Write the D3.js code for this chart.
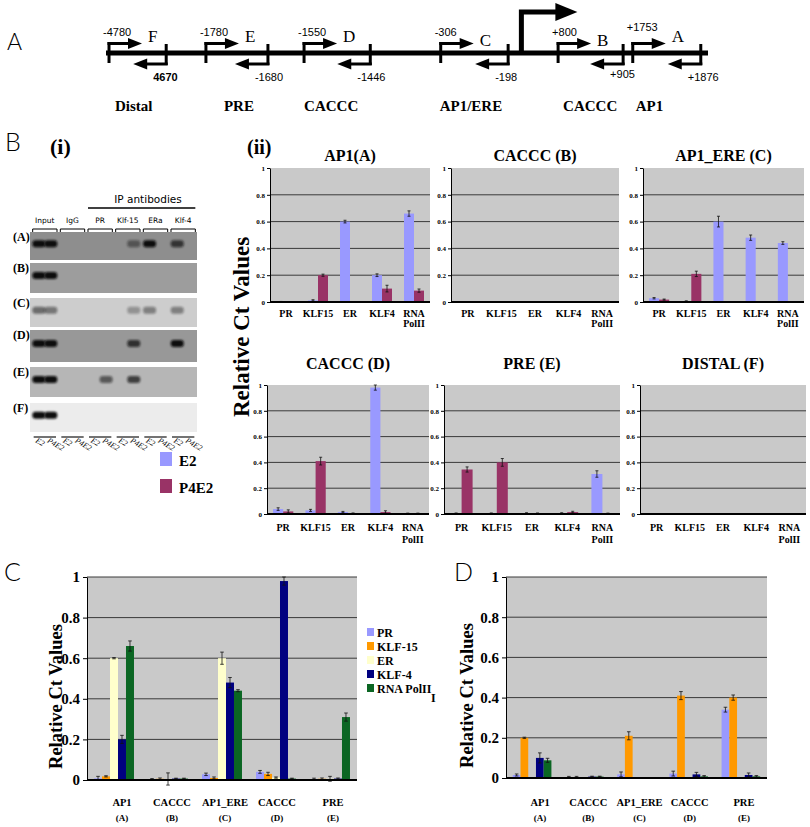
<!DOCTYPE html>
<html><head><meta charset="utf-8">
<script src="https://cdn.jsdelivr.net/npm/d3@7"></script>
<style>body{margin:0;background:#fff}</style>
</head><body>
<script>
// ---------------- DATA ----------------
// Panel A: promoter schematic
const siteLetters = ["F","E","D","C","B","A"];
const fwdLabels = ["-4780","-1780","-1550","-306","+800","+1753"];
const revLabels = ["4670","-1680","-1446","-198","+905","+1876"];
const regionNames = ["Distal","PRE","CACCC","AP1/ERE","CACCC","AP1"];

// Panel B(i): gel
const gelRows = ["(A)","(B)","(C)","(D)","(E)","(F)"];
const antibodies = ["Input","IgG","PR","Klf-15","ERa","Klf-4"];
const treatments = ["E2","P4E2"];
const gelA = [1,1, 0,0, 0,0, 0,0.45, 1,0, 0.7,0];
const gelB = [1,1, 0,0, 0,0, 0,0, 0,0, 0,0];
const gelC = [0.5,0.45, 0,0, 0,0, 0,0.3, 0.4,0, 0.4,0];
const gelD = [1,1, 0,0, 0,0, 0,0.75, 0,0, 1,0];
const gelE = [1,1, 0,0, 0,0.55, 0,0.7, 0,0, 0,0];
const gelF = [1,1, 0,0, 0,0, 0,0, 0,0, 0,0];

// Panel B(ii): six small charts, E2 vs P4E2
const factors = ["PR","KLF15","ER","KLF4","RNA PolII"];
const chartTitles = ["AP1(A)","CACCC (B)","AP1_ERE (C)","CACCC (D)","PRE (E)","DISTAL (F)"];
const e2_A = [0.002,0.012,0.60,0.20,0.66],  e2err_A = [0.002,0.005,0.01,0.01,0.02];
const p4_A = [0.002,0.20,0.004,0.10,0.085], p4err_A = [0,0.008,0,0.025,0.012];
const e2_B = [0.003,0.003,0.003,0.003,0.003], e2err_B = [0,0,0,0,0];
const p4_B = [0.003,0.003,0.003,0.003,0.003], p4err_B = [0,0,0,0,0];
const e2_C = [0.028,0.004,0.60,0.48,0.44],  e2err_C = [0.005,0.005,0.04,0.02,0.01];
const p4_C = [0.018,0.21,0.003,0.003,0.003], p4err_C = [0.004,0.02,0,0,0];
const e2_D = [0.038,0.028,0.015,0.98,0.005], e2err_D = [0.01,0.008,0.005,0.02,0.002];
const p4_D = [0.02,0.41,0.006,0.015,0.005], p4err_D = [0.012,0.03,0.002,0.01,0.002];
const e2_E = [0.004,0.004,0.006,0.006,0.31], e2err_E = [0.004,0.004,0.004,0.004,0.025];
const p4_E = [0.345,0.40,0.005,0.015,0.005], p4err_E = [0.02,0.03,0.003,0.006,0.002];
const e2_F = [0,0,0,0,0], e2err_F = [0,0,0,0,0];
const p4_F = [0,0,0,0,0], p4err_F = [0,0,0,0,0];

// Panels C (E2) and D (P4E2)
const siteNames = ["AP1","CACCC","AP1_ERE","CACCC","PRE"];
const siteCodes = ["(A)","(B)","(C)","(D)","(E)"];
const seriesNames = ["PR","KLF-15","ER","KLF-4","RNA PolII"];
const cPR    = [0.008,0.004,0.028,0.04,0.005],  cPRerr    = [0.01,0.003,0.006,0.007,0.004];
const cKLF15 = [0.018,0.006,0.01,0.03,0.006],   cKLF15err = [0.003,0.004,0.005,0.008,0.004];
const cER    = [0.60,0.005,0.60,0.012,0.006],   cERerr    = [0.003,0.03,0.03,0.003,0.012];
const cKLF4  = [0.20,0.007,0.48,0.98,0.007],    cKLF4err  = [0.02,0.002,0.025,0.02,0.003];
const cRNA   = [0.66,0.007,0.44,0.007,0.31],    cRNAerr   = [0.025,0.002,0.005,0.002,0.02];
const dPR    = [0.015,0.005,0.018,0.022,0.34],  dPRerr    = [0.005,0.003,0.012,0.012,0.012];
const dKLF15 = [0.20,0.005,0.21,0.41,0.40],     dKLF15err = [0.003,0.003,0.02,0.02,0.013];
const dER    = [0.003,0.004,0.003,0.004,0.004], dERerr    = [0,0,0,0,0];
const dKLF4  = [0.10,0.007,0.002,0.018,0.015],  dKLF4err  = [0.025,0.002,0,0.01,0.01];
const dRNA   = [0.088,0.007,0.002,0.008,0.008], dRNAerr   = [0.01,0.002,0,0.004,0.004];
const yTicks = [0,0.2,0.4,0.6,0.8,1];

// ---------------- STYLE / LAYOUT ----------------
const serif = "'Liberation Serif','Times New Roman',serif";
const narrow = "'Liberation Sans Narrow','Liberation Sans',Arial,sans-serif";
const letterFont = "Lato,'Open Sans','DejaVu Sans',sans-serif";
const e2Color = "#9999FF", p4Color = "#993366";
const seriesColors = ["#9999FF","#FF9900","#FFFFCC","#000080","#0b6623"];
const plotBg = "#c9c9c9", gridColor = "#3a3a3a";

const svg = d3.select("body").append("svg").attr("width",810).attr("height",827);
svg.append("rect").attr("width",810).attr("height",827).attr("fill","#fff");

function label(txt,x,y,size,opts={}){
  return svg.append("text").attr("x",x).attr("y",y).text(txt)
    .attr("font-family",opts.family||serif).attr("font-size",size)
    .attr("font-weight",opts.weight||"normal").attr("text-anchor",opts.anchor||"start")
    .attr("fill",opts.fill||"#000");
}

// Panel letters
label("A",7,50,23,{family:letterFont,weight:300});
label("B",5,151,25,{family:letterFont,weight:300});
label("C",4,581,25,{family:letterFont,weight:300});
label("D",454,581,25,{family:letterFont,weight:300});

// ---------------- PANEL A ----------------
const siteStart = [0.5,16.6,32.9,55.6,75.1,87.5];   // schematic units
const siteEnd   = [10.0,26.9,43.9,66.8,85.9,98.8];
const regionOffset = [6,18,0,-1,5,3];
const tssUnit = 69.0;
const xs = d3.scaleLinear().domain([0,100]).range([106,708]);
const lineY = 53;
svg.append("line").attr("x1",xs(0)).attr("x2",xs(100)).attr("y1",lineY).attr("y2",lineY)
  .attr("stroke","#000").attr("stroke-width",5);
siteLetters.forEach((s,i)=>{
  const fx = xs(siteStart[i]), rx = xs(siteEnd[i]);
  svg.append("line").attr("x1",fx).attr("x2",fx).attr("y1",42).attr("y2",63).attr("stroke","#000").attr("stroke-width",3);
  svg.append("line").attr("x1",rx).attr("x2",rx).attr("y1",44).attr("y2",65).attr("stroke","#000").attr("stroke-width",3);
  svg.append("line").attr("x1",fx-1.5).attr("x2",fx+21).attr("y1",43.5).attr("y2",43.5).attr("stroke","#000").attr("stroke-width",3);
  svg.append("path").attr("d",`M${fx+19},38 L${fx+33},43.5 L${fx+19},49 Z`).attr("fill","#000");
  svg.append("line").attr("x1",rx+1.5).attr("x2",rx-21).attr("y1",64).attr("y2",64).attr("stroke","#000").attr("stroke-width",3);
  svg.append("path").attr("d",`M${rx-19},58.5 L${rx-33},64 L${rx-19},69.5 Z`).attr("fill","#000");
  label(fwdLabels[i],fx-6,i===5?31:36,11,{family:narrow});
  label(s,fx+39,i===3||i===4?46:42,17);
  label(revLabels[i],rx-13,i===4?78:81,11,{family:narrow,weight:i===0?"bold":"normal"});
  label(regionNames[i],fx+regionOffset[i],111,15,{weight:"bold"});
});
const tx = xs(tssUnit);
svg.append("path").attr("d",`M${tx},${lineY} V12 H${tx+36}`).attr("fill","none").attr("stroke","#000").attr("stroke-width",5);
svg.append("path").attr("d",`M${tx+34},3 L${tx+56},12 L${tx+34},21 Z`).attr("fill","#000");

// ---------------- PANEL B(i) GEL ----------------
label("(i)",50,154,22,{weight:"bold"});
const gelFont = "'DejaVu Sans',sans-serif";
const gx = d3.scaleBand().domain(antibodies).range([31,197]).paddingInner(0.12).paddingOuter(0.06);
const gl = d3.scaleBand().domain(treatments).range([0,gx.bandwidth()]).paddingInner(0.05).paddingOuter(0.05);
label("IP antibodies",148,203,10.5,{family:gelFont,anchor:"middle"});
svg.append("line").attr("x1",gx("PR")).attr("x2",gx("Klf-4")+gx.bandwidth()).attr("y1",208).attr("y2",208).attr("stroke","#000").attr("stroke-width",1.3);
antibodies.forEach(a=>{
  const a0=gx(a), a1=gx(a)+gx.bandwidth();
  label(a,(a0+a1)/2,223,7.5,{family:gelFont,anchor:"middle"});
  svg.append("path").attr("d",`M${a0},232 V229 H${a1} V232`).attr("fill","none").attr("stroke","#000").attr("stroke-width",1);
  svg.append("line").attr("x1",a0+1).attr("x2",a1-1).attr("y1",437).attr("y2",437).attr("stroke","#444").attr("stroke-width",1.5);
  treatments.forEach(t=>{
    const lx = a0+gl(t)+gl.bandwidth()/2 - 4;
    svg.append("text").attr("transform",`translate(${lx},442) rotate(30)`).text(t)
      .attr("font-family",serif).attr("font-size",8).attr("font-style","italic");
  });
});
const gelData = [gelA,gelB,gelC,gelD,gelE,gelF];
const stripY = [232,263,298,330,367,403], stripH = [28,30,29,32,30,29];
const stripFill = ["#8e8e8e","#9d9d9d","#cdcdcd","#989898","#b6b6b6","#ececec"];
const defs = svg.append("defs");
defs.append("filter").attr("id","blur").attr("x","-50%").attr("y","-50%").attr("width","200%").attr("height","200%")
  .append("feGaussianBlur").attr("stdDeviation",0.9);
const lanes = antibodies.flatMap(a=>treatments.map(t=>({a,t})));
gelData.forEach((row,ri)=>{
  svg.append("rect").attr("x",30).attr("y",stripY[ri]).attr("width",167).attr("height",stripH[ri]).attr("fill",stripFill[ri]);
  label(gelRows[ri],13,stripY[ri]+9,12,{weight:"bold"});
  const cy = stripY[ri]+stripH[ri]*0.42;
  row.forEach((v,li)=>{
    if(v<=0) return;
    const ln = lanes[li];
    const cx = gx(ln.a)+gl(ln.t)+gl.bandwidth()/2;
    svg.append("rect").attr("x",cx-6.5).attr("y",cy-3.5).attr("width",13).attr("height",7).attr("rx",3)
      .attr("fill","#0c0c0c").attr("opacity",v).attr("filter","url(#blur)");
  });
});
// legend E2 / P4E2 (below gel)
svg.append("rect").attr("x",160).attr("y",452).attr("width",12).attr("height",14).attr("fill",e2Color);
label("E2",179,466,15,{weight:"bold"});
svg.append("rect").attr("x",160).attr("y",479).attr("width",12).attr("height",14).attr("fill",p4Color);
label("P4E2",179,493,15,{weight:"bold"});

// ---------------- PANEL B(ii) SMALL CHARTS ----------------
label("(ii)",247,154,20,{weight:"bold"});
svg.append("text").attr("transform","translate(249,327) rotate(-90)").text("Relative Ct Values")
  .attr("font-family",serif).attr("font-size",23).attr("font-weight","bold").attr("text-anchor","middle");

function fmt(d){ return d===0?"0":d===1?"1":String(d); }

function errBar(g,cx,y,v,e,cap){
  if(e<=0) return;
  g.append("line").attr("x1",cx).attr("x2",cx).attr("y1",y(v-e)).attr("y2",y(v+e)).attr("stroke","#111").attr("stroke-width",0.8);
  [v-e,v+e].forEach(t=>g.append("line").attr("x1",cx-cap).attr("x2",cx+cap).attr("y1",y(t)).attr("y2",y(t)).attr("stroke","#111").attr("stroke-width",0.8));
}

function smallChart(c){
  const g = svg.append("g");
  const x = d3.scaleBand().domain(factors).range([c.x0,c.x1]).paddingInner(0.375).paddingOuter(0.1875);
  const xi = d3.scaleBand().domain(treatments).range([0,x.bandwidth()]);
  const y = d3.scaleLinear().domain([0,1]).range([c.y1,c.y0]);
  g.append("rect").attr("x",c.x0).attr("y",c.y0).attr("width",c.x1-c.x0).attr("height",c.y1-c.y0).attr("fill",plotBg);
  [0.2,0.4,0.6,0.8].forEach(v=>g.append("line").attr("x1",c.x0).attr("x2",c.x1).attr("y1",y(v)).attr("y2",y(v)).attr("stroke",gridColor).attr("stroke-width",1));
  const ax = g.append("g").attr("transform",`translate(${c.x0},0)`)
    .call(d3.axisLeft(y).tickValues(yTicks).tickSize(3).tickSizeOuter(0).tickFormat(fmt));
  ax.select(".domain").attr("stroke","#000");
  ax.selectAll("text").attr("font-family",serif).attr("font-size",7).attr("font-weight","bold").attr("dx",1);
  const vals = {E2:c.e2, P4E2:c.p4}, errs = {E2:c.e2e, P4E2:c.p4e}, cols={E2:e2Color,P4E2:p4Color};
  factors.forEach((f,i)=>{
    treatments.forEach(t=>{
      const v = vals[t][i], bx = x(f)+xi(t);
      g.append("rect").attr("x",bx).attr("y",y(v)).attr("width",xi.bandwidth()).attr("height",y(0)-y(v)).attr("fill",cols[t]);
      errBar(g,bx+xi.bandwidth()/2,y,v,errs[t][i],1.5);
    });
    const tx = x(f)+x.bandwidth()/2;
    f.split(" ").forEach((p,k)=>g.append("text").attr("x",tx).attr("y",c.labY+k*(c.lineGap)).text(p)
      .attr("font-family",serif).attr("font-size",10).attr("font-weight","bold").attr("text-anchor","middle"));
  });
  g.append("line").attr("x1",c.x0).attr("x2",c.x1).attr("y1",y(0)).attr("y2",y(0)).attr("stroke","#000").attr("stroke-width",2);
  g.append("text").attr("x",(c.x0+c.x1)/2).attr("y",c.titleY).text(c.title)
    .attr("font-family",serif).attr("font-size",16).attr("font-weight","bold").attr("text-anchor","middle");
}

const smallSets = [
  [e2_A,e2err_A,p4_A,p4err_A],[e2_B,e2err_B,p4_B,p4err_B],[e2_C,e2err_C,p4_C,p4err_C],
  [e2_D,e2err_D,p4_D,p4err_D],[e2_E,e2err_E,p4_E,p4err_E],[e2_F,e2err_F,p4_F,p4err_F]];
const smallBoxes = [[270,430],[451,619],[643,804],[267,429],[444,620],[640,806]];
smallSets.forEach((s,i)=>{
  const top = i<3;
  smallChart({x0:smallBoxes[i][0],x1:smallBoxes[i][1],
    y0: top?168:385, y1: top?302:514, titleY: top?161:369,
    labY: top?317:531, lineGap: top?10:12,
    title: chartTitles[i], e2:s[0], e2e:s[1], p4:s[2], p4e:s[3]});
});

// ---------------- PANELS C & D ----------------
const catLabelShift = [8,4,3,1,3];
function bigChart(c){
  const g = svg.append("g");
  const x = d3.scaleBand().domain(d3.range(siteNames.length)).range([c.x0,c.x1]).paddingInner(0.26).paddingOuter(0.13);
  const xi = d3.scaleBand().domain(seriesNames).range([0,x.bandwidth()]);
  const y = d3.scaleLinear().domain([0,1]).range([c.y1,c.y0]);
  g.append("rect").attr("x",c.x0).attr("y",c.y0).attr("width",c.x1-c.x0).attr("height",c.y1-c.y0).attr("fill",plotBg);
  [0.2,0.4,0.6,0.8,1].forEach(v=>g.append("line").attr("x1",c.x0).attr("x2",c.x1).attr("y1",y(v)).attr("y2",y(v)).attr("stroke",gridColor).attr("stroke-width",1));
  const ax = g.append("g").attr("transform",`translate(${c.x0},0)`)
    .call(d3.axisLeft(y).tickValues(yTicks).tickSize(4).tickSizeOuter(0).tickFormat(fmt));
  ax.select(".domain").attr("stroke","#000");
  ax.selectAll("text").attr("font-family",serif).attr("font-size",15).attr("font-weight","bold");
  siteNames.forEach((s,i)=>{
    seriesNames.forEach((sn,k)=>{
      const v = c.vals[k][i], bx = x(i)+xi(sn);
      g.append("rect").attr("x",bx).attr("y",y(v)).attr("width",xi.bandwidth()).attr("height",y(0)-y(v)).attr("fill",seriesColors[k]);
      errBar(g,bx+xi.bandwidth()/2,y,v,c.errs[k][i],1.8);
    });
    const tx = x(i)+x.bandwidth()/2+catLabelShift[i];
    g.append("text").attr("x",tx).attr("y",806).text(s).attr("font-family",serif).attr("font-size",10.5).attr("font-weight","bold").attr("text-anchor","middle");
    g.append("text").attr("x",tx).attr("y",821).text(siteCodes[i]).attr("font-family",serif).attr("font-size",9).attr("font-weight","bold").attr("text-anchor","middle");
  });
  g.append("line").attr("x1",c.x0).attr("x2",c.x1).attr("y1",y(0)).attr("y2",y(0)).attr("stroke","#000").attr("stroke-width",2);
  g.append("text").attr("transform",`translate(${c.labX},${(c.y0+c.y1)/2+18}) rotate(-90)`).text("Relative Ct Values")
    .attr("font-family",serif).attr("font-size",18.5).attr("font-weight","bold").attr("text-anchor","middle");
}
bigChart({x0:87,x1:357,y0:577,y1:780,labX:62,
  vals:[cPR,cKLF15,cER,cKLF4,cRNA], errs:[cPRerr,cKLF15err,cERerr,cKLF4err,cRNAerr]});
bigChart({x0:506,x1:767,y0:577,y1:778,labX:473,
  vals:[dPR,dKLF15,dER,dKLF4,dRNA], errs:[dPRerr,dKLF15err,dERerr,dKLF4err,dRNAerr]});

seriesNames.forEach((s,k)=>{
  const ly = 632 + k*14;
  svg.append("rect").attr("x",367).attr("y",ly-4).attr("width",7).attr("height",8).attr("fill",seriesColors[k]);
  label(s,377,ly+4.5,12,{weight:"bold"});
});
label("I",431,702,12,{weight:"bold"});
</script>
</body></html>
